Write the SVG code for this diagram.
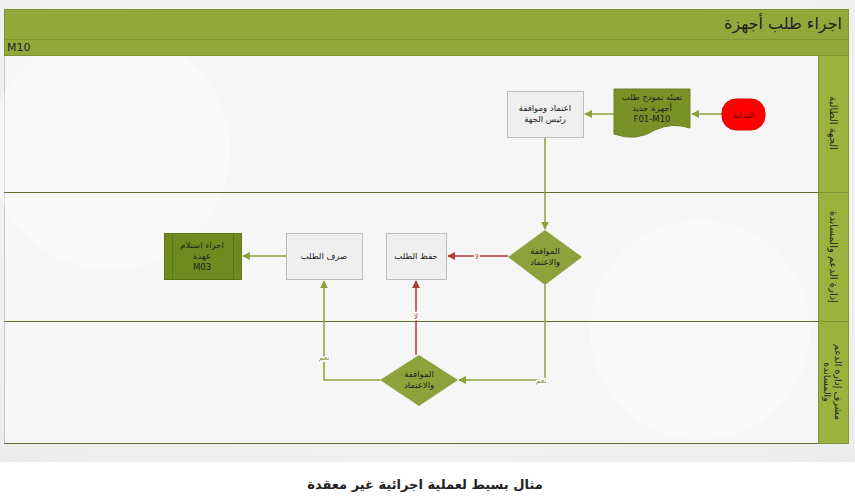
<svg xmlns="http://www.w3.org/2000/svg" width="855" height="499" viewBox="0 0 855 499">
<defs>
<radialGradient id="bg" cx="0.5" cy="0.4" r="0.8"><stop offset="0" stop-color="#fafafa"/><stop offset="1" stop-color="#ececec"/></radialGradient>
<marker id="ag" viewBox="0 0 10 10" refX="9" refY="5" markerWidth="8" markerHeight="8" orient="auto" markerUnits="userSpaceOnUse"><path d="M0,0 L10,5 L0,10 z" fill="#8ba23a"/></marker>
<marker id="ar" viewBox="0 0 10 10" refX="9" refY="5" markerWidth="8" markerHeight="8" orient="auto" markerUnits="userSpaceOnUse"><path d="M0,0 L10,5 L0,10 z" fill="#b03a3a"/></marker>
</defs>
<style>
text{font-family:"DejaVu Sans","Noto Sans",sans-serif;fill:#222;}
.n{font-size:8.5px;text-anchor:middle;}
.lane{fill:#9cb23f;stroke:#7f9432;stroke-width:1;}
.sep{stroke:#5f6e2e;stroke-width:1;}
.box{fill:#efefef;stroke:#bdbdbd;stroke-width:1;}
.dia{fill:#8da23b;}
.g{stroke:#8ba23a;stroke-width:1.5;fill:none;}
.r{stroke:#b03a3a;stroke-width:1.5;fill:none;}
.lbl{font-size:7.5px;text-anchor:middle;stroke:#fff;stroke-width:3px;paint-order:stroke;}
</style>
<rect x="0" y="0" width="855" height="499" fill="#ffffff"/>
<rect x="0" y="0" width="855" height="462" fill="url(#bg)"/>
<g id="frame">
<rect x="4.5" y="55.5" width="814" height="388" fill="#f6f6f6" stroke="#c8c8c8"/>
<circle cx="110" cy="150" r="120" fill="#ffffff" opacity="0.35"/>
<circle cx="700" cy="330" r="110" fill="#ffffff" opacity="0.35"/>
<rect x="4.5" y="9.5" width="844" height="30" fill="#93a83a" stroke="#7f9432"/>
<rect x="4.5" y="39.5" width="844" height="16" fill="#93a83a" stroke="#7f9432"/>
<text x="842" y="29" font-size="16" text-anchor="end">اجراء طلب أجهزة</text>
<text x="7" y="51" font-size="11">M10</text>
</g>
<g id="lane1">
<rect class="lane" x="818.5" y="55.5" width="30" height="137"/>
<text transform="translate(833,123) rotate(90)" font-size="10" text-anchor="middle" dy="3.5">الجهة الطالبة</text>
</g>
<g id="lane2">
<rect class="lane" x="818.5" y="192.5" width="30" height="129"/>
<text transform="translate(833,257) rotate(90)" font-size="10" text-anchor="middle" dy="3.5">إدارة الدعم والمساندة</text>
</g>
<g id="lane3">
<rect class="lane" x="818.5" y="321.5" width="30" height="122"/>
<text transform="translate(833,382) rotate(90)" font-size="9.5" text-anchor="middle"><tspan x="0" dy="-2">مشرف إدارة الدعم</tspan><tspan x="0" dy="11.5">والمساندة</tspan></text>
</g>
<line class="sep" x1="4" y1="192.5" x2="818" y2="192.5"/>
<line class="sep" x1="4" y1="321.5" x2="818" y2="321.5"/>
<line class="sep" x1="4" y1="443.5" x2="818" y2="443.5"/>
<g id="connectors">
<path class="g" d="M722,114 H692" marker-end="url(#ag)"/>
<path class="g" d="M614,114 H585" marker-end="url(#ag)"/>
<path class="g" d="M545,137 V229" marker-end="url(#ag)"/>
<path class="r" d="M508,256 H448" marker-end="url(#ar)"/>
<text class="lbl" x="477" y="259" style="fill:#b03a3a">لا</text>
<path class="g" d="M286,256 H243" marker-end="url(#ag)"/>
<path class="g" d="M545,285 V380 H459" marker-end="url(#ag)"/>
<text class="lbl" x="541" y="383" style="fill:#7a8f30">نعم</text>
<path class="r" d="M416,355 V281" marker-end="url(#ar)"/>
<text class="lbl" x="416" y="319" style="fill:#b03a3a">لا</text>
<path class="g" d="M380,380 H324 V281" marker-end="url(#ag)"/>
<text class="lbl" x="324" y="360" style="fill:#7a8f30">نعم</text>
</g>
<g id="start">
<rect x="722" y="99" width="43" height="31" rx="14" fill="#ff0000" stroke="#e00000"/>
<text class="n" x="743.5" y="117.5" style="fill:#5a0000">البداية</text>
</g>
<g id="doc">
<path d="M614,89 H690 V128 Q672,122 655,130 Q636,142 614,134 Z" fill="#7a9127" stroke="#6c8020"/>
<text class="n" x="652" y="100">تعبئه نموذج طلب</text>
<text class="n" x="652" y="111">أجهزة جديد</text>
<text class="n" x="652" y="122">F01-M10</text>
</g>
<g id="approve">
<rect class="box" x="507.5" y="91.5" width="76" height="46"/>
<text class="n" x="545" y="111">اعتماد وموافقة</text>
<text class="n" x="545" y="122">رئيس الجهة</text>
</g>
<g id="decision1">
<polygon class="dia" points="545,230 582,257 545,285 508,257"/>
<text class="n" x="545" y="254">الموافقة</text>
<text class="n" x="545" y="265">والاعتماد</text>
</g>
<g id="save">
<rect class="box" x="386.5" y="233.5" width="60" height="46"/>
<text class="n" x="416" y="259">حفظ الطلب</text>
</g>
<g id="issue">
<rect class="box" x="286.5" y="233.5" width="76" height="46"/>
<text class="n" x="324" y="259">صرف الطلب</text>
</g>
<g id="custody">
<rect x="164.5" y="233.5" width="77" height="46" fill="#6f8a1f" stroke="#5e7618"/>
<line x1="172.5" y1="233" x2="172.5" y2="279" stroke="#5e7618"/>
<line x1="233.5" y1="233" x2="233.5" y2="279" stroke="#5e7618"/>
<text class="n" x="202" y="248">اجراء استلام</text>
<text class="n" x="202" y="259">عهدة</text>
<text class="n" x="202" y="270">M03</text>
</g>
<g id="decision2">
<polygon class="dia" points="419,355 458,380 419,406 380,380"/>
<text class="n" x="419" y="377">الموافقة</text>
<text class="n" x="419" y="388">والاعتماد</text>
</g>
<text x="425" y="489" font-size="13" font-weight="bold" text-anchor="middle">مثال بسيط لعملية اجرائية غير معقدة</text>
</svg>
